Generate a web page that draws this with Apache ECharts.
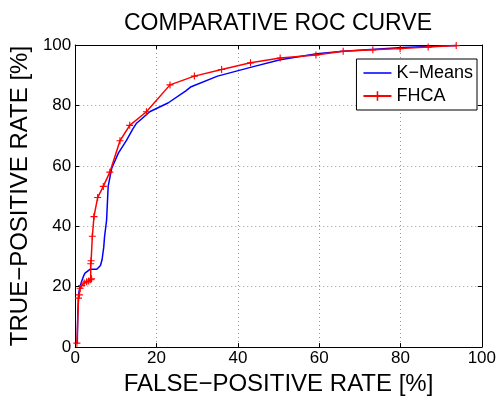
<!DOCTYPE html>
<html>
<head>
<meta charset="utf-8">
<script src="https://cdn.jsdelivr.net/npm/echarts@6/dist/echarts.min.js"></script>
<style>html,body{margin:0;padding:0;background:#fff}#c{width:499px;height:401px}</style>
</head>
<body>
<div id="c"></div>
<script>
const titleText = 'COMPARATIVE ROC CURVE';
const xName = 'FALSE\u2212POSITIVE RATE [%]';
const yName = 'TRUE\u2212POSITIVE RATE [%]';
const seriesNames = ['K\u2212Means', 'FHCA'];

const kmeansFpr = [0.5, 0.6, 0.8, 1.0, 1.5, 2.0, 2.4, 3.7, 5.3, 6.2, 6.6, 7.0, 7.2, 7.7, 8.1, 8.5, 9.0, 10.6, 12.6, 14.2, 15.0, 16.3, 18.3, 22.8, 27.2, 28.5, 35.0, 43.1, 50.4, 59.4, 65.9, 80.5, 93.7];
const kmeansTpr = [1.0, 10.0, 17.0, 19.0, 21.5, 23.4, 24.5, 25.8, 25.8, 27.0, 29.0, 33.0, 36.5, 41.9, 53.3, 56.0, 59.3, 64.2, 68.4, 72.3, 74.0, 75.5, 77.9, 80.8, 84.8, 86.2, 89.7, 92.6, 95.1, 97.1, 97.9, 99.2, 99.8];

const fhcaFpr = [0.4, 0.8, 1.0, 1.2, 1.6, 2.2, 2.8, 3.3, 3.8, 4.0, 3.8, 3.9, 4.2, 4.6, 5.5, 6.9, 8.5, 11.0, 13.4, 17.5, 23.3, 29.3, 36.0, 43.1, 50.4, 59.2, 65.9, 73.2, 79.9, 86.8, 93.7];
const fhcaTpr = [1.3, 16.2, 17.3, 19.5, 20.4, 21.2, 21.6, 21.9, 22.3, 22.6, 27.6, 28.6, 36.7, 43.2, 49.5, 53.2, 57.9, 68.3, 73.4, 77.9, 86.8, 89.7, 91.9, 94.1, 95.7, 96.7, 97.9, 98.4, 98.8, 99.3, 99.8];

const axisMin = 0, axisMax = 100, axisStep = 20;

const zip = (a, b) => a.map((v, i) => [v, b[i]]);
const FONT = 'Liberation Sans';
const plus = 'path://M4.2,0H5.8V4.2H10V5.8H5.8V10H4.2V5.8H0V4.2H4.2Z';
const bar = 'path://M0,0H10V0.55H0Z';

const frameAxis = (pos) => ({
  type: 'value', position: pos, min: axisMin, max: axisMax, interval: axisStep,
  axisLine: {show: true, onZero: false, lineStyle: {color: '#000', width: 1}},
  axisTick: {show: true, inside: true, length: 4, lineStyle: {color: '#000'}},
  axisLabel: {show: false},
  splitLine: {show: false}
});

const chart = echarts.init(document.getElementById('c'), null, {renderer: 'canvas'});
chart.setOption({
  animation: false,
  backgroundColor: '#fff',
  title: {
    text: titleText, left: 278, top: 12, textAlign: 'center', padding: 0,
    textStyle: {fontFamily: FONT, fontSize: 23, fontWeight: 'normal', color: '#000'}
  },
  legend: {
    data: [{name: seriesNames[0], icon: bar}, {name: seriesNames[1]}],
    orient: 'vertical', right: 22, top: 59,
    itemWidth: 28, itemHeight: 12, itemGap: 5, padding: [5, 4, 5, 6],
    borderColor: '#000', borderWidth: 1, backgroundColor: '#fff', borderRadius: 0,
    textStyle: {fontFamily: FONT, fontSize: 18, color: '#000'}
  },
  grid: {left: 73, right: 16, top: 45, bottom: 49, containLabel: false},
  xAxis: [{
    type: 'value', position: 'bottom', min: axisMin, max: axisMax, interval: axisStep,
    name: xName, nameLocation: 'middle', nameGap: 22,
    nameTextStyle: {fontFamily: FONT, fontSize: 24, color: '#000'},
    axisLine: {show: true, onZero: false, lineStyle: {color: '#000', width: 1}},
    axisTick: {show: true, inside: true, length: 4, lineStyle: {color: '#000'}},
    axisLabel: {fontFamily: FONT, fontSize: 17, color: '#000', margin: 3},
    splitLine: {show: true, lineStyle: {color: '#999', type: [1, 3], width: 1}}
  }, frameAxis('top')],
  yAxis: [{
    type: 'value', position: 'left', min: axisMin, max: axisMax, interval: axisStep,
    name: yName, nameLocation: 'middle', nameGap: 41,
    nameTextStyle: {fontFamily: FONT, fontSize: 24, color: '#000'},
    axisLine: {show: true, onZero: false, lineStyle: {color: '#000', width: 1}},
    axisTick: {show: true, inside: true, length: 4, lineStyle: {color: '#000'}},
    axisLabel: {fontFamily: FONT, fontSize: 17, color: '#000', margin: 4},
    splitLine: {show: true, lineStyle: {color: '#999', type: [1, 3], width: 1}}
  }, frameAxis('right')],
  series: [{
    name: seriesNames[0], type: 'line', xAxisIndex: 0, yAxisIndex: 0,
    data: zip(kmeansFpr, kmeansTpr), symbol: 'none', showSymbol: false,
    lineStyle: {color: '#0000ff', width: 1.5}, itemStyle: {color: '#0000ff'}
  }, {
    name: seriesNames[1], type: 'line', xAxisIndex: 0, yAxisIndex: 0,
    data: zip(fhcaFpr, fhcaTpr), symbol: plus, symbolSize: 7, showSymbol: true,
    lineStyle: {color: '#ff0000', width: 1.5}, itemStyle: {color: '#ff0000'}
  }]
});
</script>
</body>
</html>
